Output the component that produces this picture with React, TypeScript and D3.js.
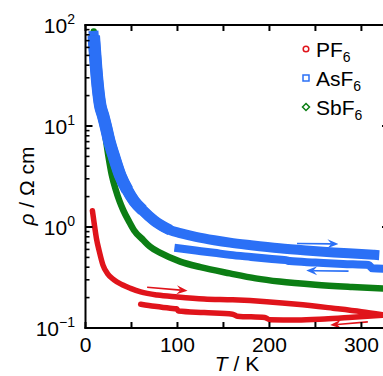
import React from "react";
import * as d3 from "d3";

const W = 383;
const H = 376;

// PF6 warming (upper branch)
const pf6UpT = [7.5, 8.5, 10, 12, 14.7, 19, 24, 31, 40, 49, 60, 78, 100, 129, 160, 197, 230, 269, 300, 323];
const pf6UpRho = [1.45, 1.25, 1.0, 0.76, 0.59, 0.42, 0.345, 0.3, 0.268, 0.247, 0.228, 0.212, 0.203, 0.194, 0.19, 0.182, 0.172, 0.157, 0.145, 0.135];
// PF6 cooling (lower branch)
const pf6DownT = [60, 75, 92, 99, 101, 129, 160, 165, 195, 200, 230, 260, 290, 323];
const pf6DownRho = [0.172, 0.164, 0.157, 0.155, 0.147, 0.142, 0.137, 0.131, 0.127, 0.121, 0.12, 0.123, 0.128, 0.134];

// AsF6 warming
const asf6UpT = [9, 10, 11.5, 13.5, 16, 19, 22, 26, 31, 38, 45.5, 53, 62, 75, 92, 103, 120, 140, 157, 180, 211, 240, 270, 300, 314];
const asf6UpRho = [78, 58, 38, 24, 16, 12.8, 10, 7, 4.97, 3.2, 2.32, 1.8, 1.47, 1.15, 0.93, 0.87, 0.8, 0.74, 0.7, 0.66, 0.615, 0.585, 0.56, 0.54, 0.53];
// AsF6 cooling
const asf6DownT = [101, 120, 140, 157, 180, 200, 218, 222, 250, 280, 308, 312, 330];
const asf6DownRho = [0.615, 0.585, 0.555, 0.53, 0.505, 0.485, 0.47, 0.46, 0.445, 0.43, 0.42, 0.39, 0.385];

// SbF6
const sbf6T = [9, 10.5, 12.5, 15, 17.5, 20, 25, 28.5, 33, 37, 41, 47, 52.7, 63, 70, 82, 103, 125, 157, 185, 211, 250, 290, 330];
const sbf6Rho = [86, 55, 33, 20, 13.5, 10, 4.97, 3.3, 2.32, 1.8, 1.47, 1.15, 0.93, 0.74, 0.64, 0.55, 0.454, 0.4, 0.347, 0.31, 0.288, 0.268, 0.255, 0.245];

// arrows (sweep direction)
const arrowSeries = ["PF6", "AsF6", "AsF6", "PF6"];
const arrowFromT = [67, 230, 286, 307];
const arrowFromRho = [0.253, 0.687, 0.366, 0.115];
const arrowToT = [111, 275, 240, 266];
const arrowToRho = [0.234, 0.68, 0.37, 0.107];

const xTickValues = [0, 50, 100, 150, 200, 250, 300];
const xTickLabels = [0, 100, 200, 300];
const yDecades = [-1, 0, 1, 2];

const legendNames = ["PF", "AsF", "SbF"];
const legendSub = ["6", "6", "6"];

const RED = "#e0141b";
const BLUE = "#2b70f6";
const GREEN = "#0c7e14";
const colorOf: Record<string, string> = { PF6: RED, AsF6: BLUE, SbF6: GREEN };

export default function App() {
  const x = d3.scaleLinear().domain([0, 330]).range([85.5, 389]);
  const y = d3.scaleLog().domain([0.1, 100]).range([328, 25]);
  const x0 = x(0), x1 = x(330), y0 = y(0.1), y1 = y(100);

  const mk = (T: number[], R: number[]) =>
    d3
      .line<number>()
      .x((_, i) => x(T[i]))
      .y((_, i) => y(R[i]))
      .curve(d3.curveMonotoneX)(T) as string;

  // the densely sampled steep part of AsF6 looks thicker: layered widths
  const blueLayers = [
    { n: asf6UpT.length, w: 10, cap: "square" },
    { n: 15, w: 11, cap: "round" },
    { n: 13, w: 11.8, cap: "round" },
    { n: 11, w: 12.5, cap: "round" },
  ];
  const minor: number[] = [];
  for (let k = -1; k < 2; k++) for (let m = 2; m <= 9; m++) minor.push(m * Math.pow(10, k));

  const font = "'Liberation Sans', Arial, Helvetica, sans-serif";
  const fs = 21;

  const arrows = arrowFromT.map((t, i) => {
    const ax = x(t), ay = y(arrowFromRho[i]);
    const bx = x(arrowToT[i]), by = y(arrowToRho[i]);
    const ang = Math.atan2(by - ay, bx - ax);
    const L = 11, Wd = 4.5, notch = 7;
    const c = Math.cos(ang), s = Math.sin(ang);
    const p = (u: number, v: number) => [bx + u * c - v * s, by + u * s + v * c];
    const pts = [p(0, 0), p(-L, -Wd), p(-notch, 0), p(-L, Wd)];
    const lineEnd = p(-notch, 0);
    return { ax, ay, lx: lineEnd[0], ly: lineEnd[1], head: "M" + pts.map((q) => q.join(",")).join("L") + "Z", color: colorOf[arrowSeries[i]] };
  });

  return (
    <svg width={W} height={H} style={{ position: "absolute", left: 0, top: 0, background: "#fff" }} fontFamily={font}>
      <defs>
        <clipPath id="plotclip">
          <rect x={x0} y={y1} width={x1 - x0} height={y0 - y1} />
        </clipPath>
      </defs>
      <g clipPath="url(#plotclip)" fill="none">
        <path d={mk(sbf6T, sbf6Rho)} stroke={GREEN} strokeWidth={6.5} strokeLinecap="round" strokeLinejoin="round" />
        {blueLayers.map((l, i) => (
          <path
            key={i}
            d={mk(asf6UpT.slice(0, l.n), asf6UpRho.slice(0, l.n))}
            stroke={BLUE}
            strokeWidth={l.w}
            strokeLinecap={i === 0 ? "square" : "butt"}
            strokeLinejoin="round"
          />
        ))}
        <path d={mk(asf6DownT, asf6DownRho)} stroke={BLUE} strokeWidth={8} strokeLinecap="square" strokeLinejoin="round" />
        <path d={mk(pf6DownT, pf6DownRho)} stroke={RED} strokeWidth={5.5} strokeLinecap="round" strokeLinejoin="round" />
        <path d={mk(pf6UpT, pf6UpRho)} stroke={RED} strokeWidth={5.5} strokeLinecap="round" strokeLinejoin="round" />
        {arrows.map((a, i) => (
          <g key={i}>
            <line x1={a.ax} y1={a.ay} x2={a.lx} y2={a.ly} stroke={a.color} strokeWidth={1.6} />
            <path d={a.head} fill={a.color} stroke="none" />
          </g>
        ))}
      </g>

      {/* frame */}
      <g stroke="#000" strokeWidth={2} fill="none">
        <line x1={x0} y1={y1 - 1} x2={x0} y2={y0 + 1} />
        <line x1={x0 - 1} y1={y0} x2={x1} y2={y0} />
        <line x1={x0 - 1} y1={y1} x2={x1} y2={y1} />
        <line x1={x1} y1={y1} x2={x1} y2={y0} />
      </g>
      {/* ticks */}
      <g stroke="#000" strokeWidth={2}>
        {xTickValues.map((t) => (
          <g key={t}>
            <line x1={x(t)} x2={x(t)} y1={y0} y2={y0 - 6} />
            <line x1={x(t)} x2={x(t)} y1={y1} y2={y1 + 6} />
          </g>
        ))}
        {yDecades.map((k) => (
          <g key={k}>
            <line x1={x0} x2={x0 + 7} y1={y(Math.pow(10, k))} y2={y(Math.pow(10, k))} />
            <line x1={x1} x2={x1 - 7} y1={y(Math.pow(10, k))} y2={y(Math.pow(10, k))} />
          </g>
        ))}
        {minor.map((v) => (
          <g key={v}>
            <line x1={x0} x2={x0 + 4} y1={y(v)} y2={y(v)} strokeWidth={1.6} />
            <line x1={x1} x2={x1 - 4} y1={y(v)} y2={y(v)} strokeWidth={1.6} />
          </g>
        ))}
      </g>
      {/* x tick labels */}
      <g fontSize={fs} textAnchor="middle" fill="#000">
        {xTickLabels.map((t) => (
          <text key={t} x={x(t)} y={352}>
            {t}
          </text>
        ))}
      </g>
      {/* y tick labels */}
      <g fontSize={fs} textAnchor="end" fill="#000">
        {yDecades.map((k) => (
          <text key={k} x={75} y={y(Math.pow(10, k)) + 8}>
            10
            <tspan fontSize={14} dy={-9}>
              {k < 0 ? "\u2212" + Math.abs(k) : String(k)}
            </tspan>
          </text>
        ))}
      </g>
      {/* axis titles */}
      <text x={237} y={371} fontSize={fs} textAnchor="middle">
        <tspan fontStyle="italic">T</tspan> / K
      </text>
      <text transform={`translate(34,186) rotate(-90)`} fontSize={fs} textAnchor="middle">
        <tspan fontStyle="italic">ρ</tspan> / Ω cm
      </text>
      {/* legend */}
      <g>
        {legendNames.map((n, i) => {
          const cy = 49 + i * 29;
          const col = [RED, BLUE, GREEN][i];
          return (
            <g key={n}>
              {i === 0 && <circle cx={306} cy={cy} r={2.8} fill="#fff" stroke={col} strokeWidth={1.5} />}
              {i === 1 && <rect x={303} y={cy - 3} width={6} height={6} fill="#fff" stroke={col} strokeWidth={1.5} />}
              {i === 2 && <path d={`M306,${cy - 3.5}L309.5,${cy}L306,${cy + 3.5}L302.5,${cy}Z`} fill="#fff" stroke={col} strokeWidth={1.5} />}
              <text x={316} y={cy + 7.5} fontSize={fs}>
                {n}
                <tspan fontSize={14} dy={5}>
                  {legendSub[i]}
                </tspan>
              </text>
            </g>
          );
        })}
      </g>
    </svg>
  );
}
